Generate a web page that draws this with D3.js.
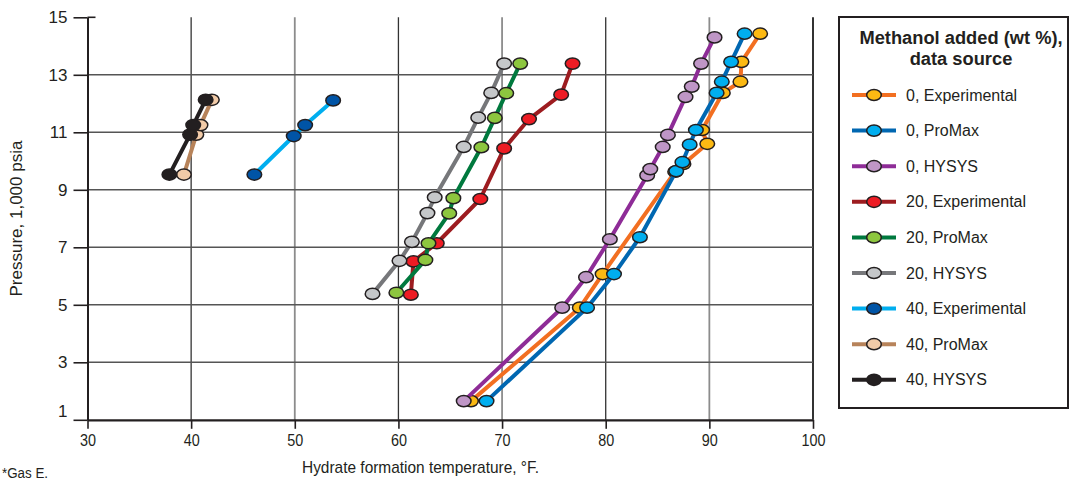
<!DOCTYPE html>
<html><head><meta charset="utf-8">
<script src="https://cdn.jsdelivr.net/npm/d3@7/dist/d3.min.js"></script>
<style>body{margin:0;background:#fff}svg{display:block}</style>
</head><body>
<svg id="chart" width="1071" height="483"></svg>
<script>
// ---------- data ----------
const xTicks = [30, 40, 50, 60, 70, 80, 90, 100];
const yTicks = [1, 3, 5, 7, 9, 11, 13, 15];
const seriesNames = ["0, Experimental", "0, ProMax", "0, HYSYS",
  "20, Experimental", "20, ProMax", "20, HYSYS",
  "40, Experimental", "40, ProMax", "40, HYSYS"];

// temperature (°F) and pressure (1,000 psia) per series
const m0ExpT  = [67.0, 77.5, 79.7, 86.7, 87.5, 89.8, 89.3, 91.3, 93.0, 93.1, 94.9];
const m0ExpP  = [1.65, 4.90, 6.07, 9.63, 9.90, 10.60, 11.08, 12.37, 12.76, 13.45, 14.43];
const m0ProT  = [68.5, 78.2, 80.8, 83.3, 86.8, 87.4, 88.1, 88.7, 90.7, 91.2, 92.1, 93.4];
const m0ProP  = [1.65, 4.90, 6.07, 7.35, 9.65, 9.96, 10.57, 11.08, 12.37, 12.76, 13.45, 14.43];
const m0HysT  = [66.3, 75.8, 78.1, 80.4, 84.0, 84.3, 85.5, 86.0, 87.7, 88.3, 89.2, 90.5];
const m0HysP  = [1.65, 4.90, 5.96, 7.28, 9.50, 9.72, 10.49, 10.91, 12.23, 12.59, 13.39, 14.30];
const m20ExpT = [61.2, 61.45, 63.7, 67.9, 70.2, 72.6, 75.7, 76.8];
const m20ExpP = [5.35, 6.51, 7.14, 8.68, 10.44, 11.46, 12.31, 13.39];
const m20ProT = [59.8, 62.6, 62.9, 64.9, 65.3, 68.0, 69.3, 70.4, 71.75];
const m20ProP = [5.42, 6.56, 7.14, 8.18, 8.71, 10.48, 11.50, 12.36, 13.39];
const m20HysT = [57.5, 60.1, 61.3, 62.8, 63.5, 66.3, 67.7, 68.95, 70.2];
const m20HysP = [5.38, 6.53, 7.19, 8.19, 8.74, 10.49, 11.51, 12.37, 13.39];
const m40ExpT = [46.1, 49.9, 51.0, 53.7];
const m40ExpP = [9.53, 10.87, 11.25, 12.11];
const m40ProT = [39.3, 40.5, 40.9, 42.0];
const m40ProP = [9.53, 10.92, 11.25, 12.13];
const m40HysT = [37.9, 39.9, 40.2, 41.4];
const m40HysP = [9.53, 10.92, 11.25, 12.13];

const seriesT = [m0ExpT, m0ProT, m0HysT, m20ExpT, m20ProT, m20HysT, m40ExpT, m40ProT, m40HysT];
const seriesP = [m0ExpP, m0ProP, m0HysP, m20ExpP, m20ProP, m20HysP, m40ExpP, m40ProP, m40HysP];

// ---------- styles ----------
const lineColors   = ["#f26f21", "#0067b1", "#8e2c97", "#9d1c20", "#00793e", "#76777a", "#00aeef", "#b7835a", "#231f20"];
const markerColors = ["#fcb913", "#00aeef", "#bf96c6", "#ed1c24", "#8dc63f", "#c5c7c9", "#0054a6", "#f2cba8", "#231f20"];
const sans = "Arial, 'Liberation Sans', sans-serif";
const narrow = "'Liberation Sans Narrow', 'Arial Narrow', Arial, 'Liberation Sans', sans-serif";

const svg = d3.select("#chart");
const x = d3.scaleLinear().domain([30, 100]).range([87.5, 813]);
const y = d3.scaleLinear().domain([1, 15]).range([419.8, 17.3]);

// gridlines
const g = svg.append("g");
g.selectAll("line.vg").data(xTicks.slice(1)).join("line")
  .attr("x1", d => x(d)).attr("x2", d => x(d))
  .attr("y1", y(15)).attr("y2", y(1))
  .attr("stroke", d => (d % 20 === 0) ? "#333" : "#8c8c8c")
  .attr("stroke-width", d => d === 100 ? 2 : (d % 20 === 0 ? 1.3 : 1.8));
g.selectAll("line.hg").data(yTicks.filter(v => v > 1 && v < 15)).join("line")
  .attr("x1", x(30)).attr("x2", x(100))
  .attr("y1", d => y(d)).attr("y2", d => y(d))
  .attr("stroke", "#555").attr("stroke-width", 1.4);

// axes
const yAxis = svg.append("g").attr("transform", `translate(${x(30)},0)`)
  .call(d3.axisLeft(y).tickValues(yTicks).tickSize(14).tickSizeOuter(0).tickPadding(6));
yAxis.select(".domain").attr("stroke", "#231f20").attr("stroke-width", 2);
yAxis.selectAll(".tick line").attr("stroke", "#231f20").attr("stroke-width", 1.6);
yAxis.selectAll(".tick text").attr("font-family", sans)
  .attr("font-size", 17).attr("fill", "#231f20")
  .attr("dy", d => d === 1 ? "-0.2em" : "0.32em");

const xAxis = svg.append("g").attr("transform", `translate(0,${y(1)})`)
  .call(d3.axisBottom(x).tickValues(xTicks).tickSize(9).tickSizeOuter(0).tickPadding(6));
xAxis.select(".domain").attr("stroke", "#231f20").attr("stroke-width", 2.2);
xAxis.selectAll(".tick line").attr("stroke", "#231f20").attr("stroke-width", 1.6);
xAxis.selectAll(".tick text").attr("font-family", narrow)
  .attr("font-size", 16).attr("fill", "#231f20")
  .attr("textLength", d => d === 100 ? 24 : 16).attr("lengthAdjust", "spacingAndGlyphs");

// top tick at 15 extends inward a little
svg.append("line").attr("x1", x(30)).attr("x2", x(30) + 8).attr("y1", y(15)).attr("y2", y(15))
  .attr("stroke", "#231f20").attr("stroke-width", 1.6);

// axis titles
svg.append("text").attr("transform", `translate(22,${y(8)}) rotate(-90)`)
  .attr("text-anchor", "middle").attr("font-family", sans)
  .attr("font-size", 17).attr("fill", "#231f20").text("Pressure, 1,000 psia");
svg.append("text").attr("x", 302).attr("y", 473)
  .attr("font-family", narrow).attr("font-size", 17).attr("fill", "#231f20")
  .attr("textLength", 237).attr("lengthAdjust", "spacingAndGlyphs")
  .text("Hydrate formation temperature, °F.");
svg.append("text").attr("x", 2).attr("y", 478)
  .attr("font-family", narrow).attr("font-size", 14).attr("fill", "#231f20")
  .attr("textLength", 46).attr("lengthAdjust", "spacingAndGlyphs").text("*Gas E.");

// series
const line = d3.line().x(d => x(d[0])).y(d => y(d[1]));
seriesNames.forEach((name, i) => {
  const pts = seriesT[i].map((t, k) => [t, seriesP[i][k]]);
  const sg = svg.append("g");
  sg.append("path").attr("d", line(pts)).attr("fill", "none")
    .attr("stroke", lineColors[i]).attr("stroke-width", 4).attr("stroke-linejoin", "round");
  sg.selectAll("ellipse").data(pts).join("ellipse")
    .attr("cx", d => x(d[0])).attr("cy", d => y(d[1]))
    .attr("rx", 7.3).attr("ry", 5.6)
    .attr("fill", markerColors[i]).attr("stroke", "#231f20").attr("stroke-width", 1.5);
});

// legend
const lg = svg.append("g");
lg.append("rect").attr("x", 839).attr("y", 17).attr("width", 229).attr("height", 391)
  .attr("fill", "#fff").attr("stroke", "#231f20").attr("stroke-width", 2);
["Methanol added (wt %),", "data source"].forEach((t, k) => {
  lg.append("text").attr("x", 961).attr("y", 44 + k * 21).attr("text-anchor", "middle")
    .attr("font-family", sans).attr("font-weight", "bold")
    .attr("font-size", 18.3).attr("fill", "#231f20").text(t);
});
seriesNames.forEach((name, i) => {
  const cy = 95 + i * 35.6;
  lg.append("line").attr("x1", 852).attr("x2", 896).attr("y1", cy).attr("y2", cy)
    .attr("stroke", lineColors[i]).attr("stroke-width", 4);
  lg.append("ellipse").attr("cx", 874).attr("cy", cy).attr("rx", 7.3).attr("ry", 5.6)
    .attr("fill", markerColors[i]).attr("stroke", "#231f20").attr("stroke-width", 1.5);
  lg.append("text").attr("x", 906).attr("y", cy).attr("dy", "0.35em")
    .attr("font-family", sans)
    .attr("font-size", 16).attr("fill", "#231f20").text(name);
});
</script>
</body></html>
